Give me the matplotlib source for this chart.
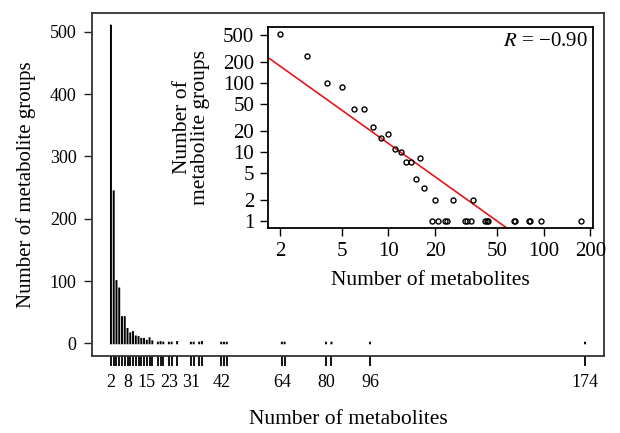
import numpy as np
import matplotlib.pyplot as plt

# metabolite group sizes and how many groups have that size
sizes = [2, 3, 4, 5, 6, 7, 8, 9, 10, 11, 12, 13, 14, 15, 16, 17, 19, 20, 21, 23,
         24, 26, 31, 32, 34, 35, 42, 43, 44, 64, 65, 80, 82, 96, 174]
counts = [510, 244, 100, 88, 42, 42, 23, 16, 18, 11, 10, 7, 7, 4, 8, 3, 1, 2, 1, 1,
          1, 2, 1, 1, 1, 2, 1, 1, 1, 1, 1, 1, 1, 1, 1]
main_xticks = [2, 8, 15, 23, 31, 42, 64, 80, 96, 174]
main_yticks = [0, 100, 200, 300, 400, 500]
inset_xticks = [2, 5, 10, 20, 50, 100, 200]
inset_yticks = [1, 2, 5, 10, 20, 50, 100, 200, 500]
r_label = '$R$ = \u22120.90'

plt.rcParams['font.family'] = ['Liberation Serif', 'DejaVu Serif']
plt.rcParams['mathtext.fontset'] = 'stix'

x = np.array(sizes, dtype=float)
y = np.array(counts, dtype=float)

fig = plt.figure(figsize=(6.2, 4.33), dpi=100)
ax = fig.add_axes([92 / 620, 1 - 356 / 433, 512 / 620, 343 / 433])

# R style type="h" stems
for xi, yi in zip(x, y):
    ax.plot([xi, xi], [0, yi], color='black', lw=1.4,
            solid_capstyle='projecting', snap=False)
ax.set_xlim(-4.88, 180.88)
ax.set_ylim(-20.4, 530.4)
ax.set_yticks(main_yticks)
ax.set_xticks(main_xticks)
ax.set_xticks([s for s in sizes if s not in main_xticks], minor=True)
ax.tick_params(axis='x', which='both', length=7, width=1.4, direction='out',
               color='#111111', labelsize=13, pad=6)
ax.tick_params(axis='y', length=6, width=1.0, color='#222222', labelsize=13, pad=5)
for sp in ax.spines.values():
    sp.set_linewidth(1.3)
    sp.set_color('#333333')
ax.set_xlabel('Number of metabolites', fontsize=15.5, labelpad=14)
ax.set_ylabel('Number of metabolite groups', fontsize=15, labelpad=10)

# inset: log-log with fitted line
ins = fig.add_axes([268 / 620, 1 - 228 / 433, 325 / 620, 201 / 433])
lx, ly = np.log10(x), np.log10(y)
xr = lx.max() - lx.min()
yr = ly.max() - ly.min()
ins.set_xscale('log')
ins.set_yscale('log')
ins.set_xlim(10 ** (lx.min() - 0.04 * xr), 10 ** (lx.max() + 0.04 * xr))
ins.set_ylim(10 ** (ly.min() - 0.04 * yr), 10 ** (ly.max() + 0.04 * yr))

slope, icpt = np.polyfit(lx, ly, 1)
xs = np.logspace(lx.min() - 0.1, lx.max() + 0.1, 50)
ins.plot(xs, 10 ** (icpt + slope * np.log10(xs)), color='#e8141c', lw=1.2)
ins.plot(x, y, 'o', mfc='none', mec='black', ms=3.6, mew=1.0)

ins.set_xticks(inset_xticks)
ins.set_xticklabels([str(v) for v in inset_xticks])
ins.set_yticks(inset_yticks)
ins.set_yticklabels([str(v) for v in inset_yticks])
ins.minorticks_off()
ins.tick_params(length=6, width=1.0, labelsize=15, pad=4)
for sp in ins.spines.values():
    sp.set_linewidth(1.3)
ins.text(0.985, 0.93, r_label, transform=ins.transAxes, ha='right', va='center',
         fontsize=15)
ins.set_xlabel('Number of metabolites', fontsize=15.5, labelpad=7)
ins.set_ylabel('Number of\nmetabolite groups', fontsize=15.5, labelpad=9,
               linespacing=0.95)

fig.savefig('out.png', dpi=100)
